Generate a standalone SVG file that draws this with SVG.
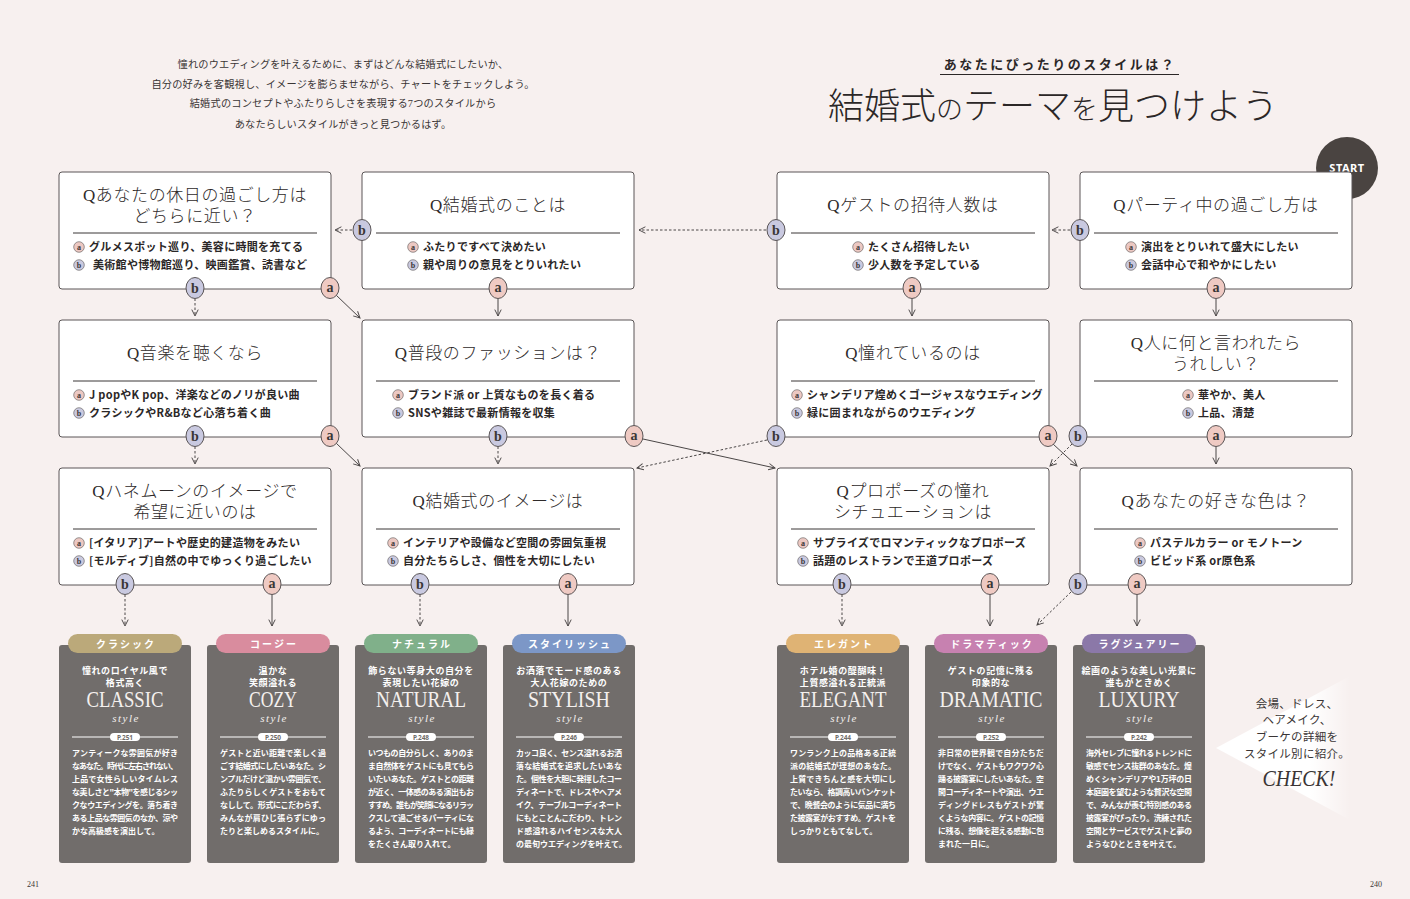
<svg xmlns="http://www.w3.org/2000/svg" width="1410" height="899" viewBox="0 0 1410 899">
<style>
.qb{fill:#fff;stroke:#5a5556;stroke-width:1}
.qt{font-family:"Liberation Serif","Noto Sans CJK JP",serif;font-size:17px;fill:#2e2a2a;text-anchor:middle;letter-spacing:.6px;font-weight:300}
.dv{stroke:#3a3636;stroke-width:1}
.op{font-family:"Noto Sans CJK JP",sans-serif;font-size:11px;font-weight:700;fill:#2b2727;letter-spacing:.3px}
.mka{fill:#ecc8c2;stroke:#5a5556;stroke-width:.6}
.mkb{fill:#c9c9df;stroke:#5a5556;stroke-width:.6}
.mt{font-family:"Liberation Serif",serif;font-size:8px;font-weight:700;fill:#3a3636;text-anchor:middle}
.bda{fill:#efcac3;stroke:#5a5556;stroke-width:1}
.bdb{fill:#c9c9e0;stroke:#5a5556;stroke-width:1}
.bt{font-family:"Liberation Serif",serif;font-weight:700;font-size:14px;fill:#3a3636;text-anchor:middle}
.cs{fill:none;stroke:#4a4646;stroke-width:1;marker-end:url(#ah)}
.cd{fill:none;stroke:#4a4646;stroke-width:1;stroke-dasharray:2.5 2;marker-end:url(#ah)}
.card{fill:#716d6b}
.pl{font-family:"Noto Sans CJK JP",sans-serif;font-size:10px;font-weight:700;fill:#fff;text-anchor:middle;letter-spacing:2px}
.tg{font-family:"Noto Sans CJK JP",sans-serif;font-size:9px;font-weight:700;fill:#fff;text-anchor:middle;letter-spacing:.6px}
.st{font-family:"Liberation Serif",serif;font-size:23px;fill:#f4f0ee;text-anchor:middle}
.sy{font-family:"Liberation Serif",serif;font-size:11px;font-style:italic;fill:#f4f0ee;text-anchor:middle;letter-spacing:1.5px}
.cl{stroke:#fff;stroke-width:1.2}
.pp{fill:#fff}
.pt{font-family:"Noto Sans",sans-serif;font-size:6.5px;font-weight:700;fill:#716d6b;text-anchor:middle}
.bx{font-family:"Noto Sans CJK JP",sans-serif;font-size:8px;font-weight:700;fill:#fff}
.it{font-family:"Liberation Serif","Noto Sans CJK JP",serif;font-size:10.2px;fill:#3a3535;text-anchor:middle;letter-spacing:.2px}
.ck{font-family:"Liberation Serif","Noto Sans CJK JP",serif;font-size:11.5px;fill:#3a3535;text-anchor:middle;letter-spacing:.3px}
</style>
<defs>
<marker id="ah" viewBox="0 0 10 10" refX="9" refY="5" markerWidth="8" markerHeight="8" markerUnits="userSpaceOnUse" orient="auto">
<path d="M1,1 L9,5 L1,9" fill="none" stroke="#4a4646" stroke-width="1.2"/>
</marker>
<linearGradient id="fade" x1="1216" y1="0" x2="1350" y2="0" gradientUnits="userSpaceOnUse">
<stop offset="0" stop-color="#fff" stop-opacity="1"/>
<stop offset="0.7" stop-color="#fff" stop-opacity="1"/>
<stop offset="1" stop-color="#fff" stop-opacity="0"/>
</linearGradient>
</defs>
<rect width="1410" height="899" fill="#f7f0ef"/>

<g id="intro">
<text class="it" x="343" y="68">憧れのウエディングを叶えるために、まずはどんな結婚式にしたいか、</text>
<text class="it" x="343" y="88">自分の好みを客観視し、イメージを膨らませながら、チャートをチェックしよう。</text>
<text class="it" x="343" y="107">結婚式のコンセプトやふたりらしさを表現する7つのスタイルから</text>
<text class="it" x="343" y="128">あなたらしいスタイルがきっと見つかるはず。</text>
</g>

<g id="title">
<text x="1060" y="69" font-family="Noto Sans CJK JP, sans-serif" font-size="13" font-weight="700" fill="#2b2727" text-anchor="middle" letter-spacing="2.5">あなたにぴったりのスタイルは？</text>
<line x1="940" y1="74.5" x2="1179" y2="74.5" stroke="#2b2727" stroke-width="1"/>
<text x="828" y="119" font-family="Liberation Serif, Noto Sans CJK JP, serif" font-weight="300" fill="#2b2727" font-size="36"><tspan>結婚式</tspan><tspan font-size="27">の</tspan><tspan>テーマ</tspan><tspan font-size="27">を</tspan><tspan>見つけよう</tspan></text>
</g>

<g id="start">
<circle cx="1347" cy="168" r="31" fill="#4a4441"/>
<text x="1347" y="172" font-family="Noto Sans, sans-serif" font-size="11" font-weight="700" fill="#fff" text-anchor="middle" letter-spacing=".5">START</text>
</g>

<g id="connectors">
<path class="cd" d="M352,230 H335"/>
<path class="cd" d="M195,298.5 V316"/>
<path class="cs" d="M336,295 L360,318"/>
<path class="cs" d="M498,298.5 V316"/>
<path class="cd" d="M766,230 H639"/>
<path class="cs" d="M912,298.5 V316"/>
<path class="cd" d="M1070,230 H1052"/>
<path class="cs" d="M1216,298.5 V316"/>

<path class="cd" d="M195,446.5 V464"/>
<path class="cs" d="M336,443 L360,466"/>
<path class="cd" d="M498,446.5 V464"/>
<path class="cs" d="M643,439 L775,468"/>
<path class="cd" d="M767,440 L637,468"/>
<path class="cs" d="M1053,444 L1077,466"/>
<path class="cd" d="M1072,444 L1050,466"/>
<path class="cs" d="M1216,446.5 V464"/>

<path class="cd" d="M125,594.5 V626"/>
<path class="cs" d="M272,594.5 V626"/>
<path class="cd" d="M420,594.5 V626"/>
<path class="cs" d="M568,594.5 V626"/>
<path class="cd" d="M842,594.5 V626"/>
<path class="cs" d="M990,594.5 V626"/>
<path class="cd" d="M1071,592 L1037,625"/>
<path class="cs" d="M1137,594.5 V626"/>
</g>

<!-- Row 1 -->
<g id="q-holiday">
<rect class="qb" x="59" y="172" width="272" height="117" rx="3"/>
<text class="qt" x="195" y="201">Qあなたの休日の過ごし方は</text>
<text class="qt" x="195" y="222">どちらに近い？</text>
<line class="dv" x1="73" y1="233" x2="317" y2="233"/>
<circle class="mka" cx="79" cy="247" r="5.3"/><text class="mt" x="79" y="249.5">a</text>
<text class="op" x="89" y="251">グルメスポット巡り、美容に時間を充てる</text>
<circle class="mkb" cx="79" cy="265" r="5.3"/><text class="mt" x="79" y="267.5">b</text>
<text class="op" x="93" y="269">美術館や博物館巡り、映画鑑賞、読書など</text>
<ellipse class="bdb" cx="195" cy="288" rx="9" ry="10.5"/><text class="bt" x="195" y="293">b</text>
<ellipse class="bda" cx="330" cy="288" rx="9" ry="10.5"/><text class="bt" x="330" y="292">a</text>
</g>

<g id="q-wedding">
<rect class="qb" x="362" y="172" width="272" height="117" rx="3"/>
<text class="qt" x="498" y="211">Q結婚式のことは</text>
<line class="dv" x1="376" y1="233" x2="620" y2="233"/>
<circle class="mka" cx="413" cy="247" r="5.3"/><text class="mt" x="413" y="249.5">a</text>
<text class="op" x="423" y="251">ふたりですべて決めたい</text>
<circle class="mkb" cx="413" cy="265" r="5.3"/><text class="mt" x="413" y="267.5">b</text>
<text class="op" x="423" y="269">親や周りの意見をとりいれたい</text>
<ellipse class="bdb" cx="362" cy="230" rx="9" ry="10.5"/><text class="bt" x="362" y="235">b</text>
<ellipse class="bda" cx="498" cy="288" rx="9" ry="10.5"/><text class="bt" x="498" y="292">a</text>
</g>

<g id="q-guests">
<rect class="qb" x="777" y="172" width="272" height="117" rx="3"/>
<text class="qt" x="913" y="211">Qゲストの招待人数は</text>
<line class="dv" x1="791" y1="233" x2="1035" y2="233"/>
<circle class="mka" cx="858" cy="247" r="5.3"/><text class="mt" x="858" y="249.5">a</text>
<text class="op" x="868" y="251">たくさん招待したい</text>
<circle class="mkb" cx="858" cy="265" r="5.3"/><text class="mt" x="858" y="267.5">b</text>
<text class="op" x="868" y="269">少人数を予定している</text>
<ellipse class="bdb" cx="776" cy="230" rx="9" ry="10.5"/><text class="bt" x="776" y="235">b</text>
<ellipse class="bda" cx="912" cy="288" rx="9" ry="10.5"/><text class="bt" x="912" y="292">a</text>
</g>

<g id="q-party">
<rect class="qb" x="1080" y="172" width="272" height="117" rx="3"/>
<text class="qt" x="1216" y="211">Qパーティ中の過ごし方は</text>
<line class="dv" x1="1094" y1="233" x2="1338" y2="233"/>
<circle class="mka" cx="1131" cy="247" r="5.3"/><text class="mt" x="1131" y="249.5">a</text>
<text class="op" x="1141" y="251">演出をとりいれて盛大にしたい</text>
<circle class="mkb" cx="1131" cy="265" r="5.3"/><text class="mt" x="1131" y="267.5">b</text>
<text class="op" x="1141" y="269">会話中心で和やかにしたい</text>
<ellipse class="bdb" cx="1080" cy="230" rx="9" ry="10.5"/><text class="bt" x="1080" y="235">b</text>
<ellipse class="bda" cx="1216" cy="288" rx="9" ry="10.5"/><text class="bt" x="1216" y="292">a</text>
</g>

<!-- Row 2 -->
<g id="q-music">
<rect class="qb" x="59" y="320" width="272" height="117" rx="3"/>
<text class="qt" x="195" y="359">Q音楽を聴くなら</text>
<line class="dv" x1="73" y1="381" x2="317" y2="381"/>
<circle class="mka" cx="79" cy="395" r="5.3"/><text class="mt" x="79" y="397.5">a</text>
<text class="op" x="89" y="399">J popやK pop、洋楽などのノリが良い曲</text>
<circle class="mkb" cx="79" cy="413" r="5.3"/><text class="mt" x="79" y="415.5">b</text>
<text class="op" x="89" y="417">クラシックやR&amp;Bなど心落ち着く曲</text>
<ellipse class="bdb" cx="195" cy="436" rx="9" ry="10.5"/><text class="bt" x="195" y="441">b</text>
<ellipse class="bda" cx="330" cy="436" rx="9" ry="10.5"/><text class="bt" x="330" y="440">a</text>
</g>

<g id="q-fashion">
<rect class="qb" x="362" y="320" width="272" height="117" rx="3"/>
<text class="qt" x="498" y="359">Q普段のファッションは？</text>
<line class="dv" x1="376" y1="381" x2="620" y2="381"/>
<circle class="mka" cx="398" cy="395" r="5.3"/><text class="mt" x="398" y="397.5">a</text>
<text class="op" x="408" y="399">ブランド派 or 上質なものを長く着る</text>
<circle class="mkb" cx="398" cy="413" r="5.3"/><text class="mt" x="398" y="415.5">b</text>
<text class="op" x="408" y="417">SNSや雑誌で最新情報を収集</text>
<ellipse class="bdb" cx="498" cy="436" rx="9" ry="10.5"/><text class="bt" x="498" y="441">b</text>
<ellipse class="bda" cx="634" cy="436" rx="9" ry="10.5"/><text class="bt" x="634" y="440">a</text>
</g>

<g id="q-longing">
<rect class="qb" x="777" y="320" width="272" height="117" rx="3"/>
<text class="qt" x="913" y="359">Q憧れているのは</text>
<line class="dv" x1="791" y1="381" x2="1035" y2="381"/>
<circle class="mka" cx="797" cy="395" r="5.3"/><text class="mt" x="797" y="397.5">a</text>
<text class="op" x="807" y="399">シャンデリア煌めくゴージャスなウエディング</text>
<circle class="mkb" cx="797" cy="413" r="5.3"/><text class="mt" x="797" y="415.5">b</text>
<text class="op" x="807" y="417">緑に囲まれながらのウエディング</text>
<ellipse class="bdb" cx="776" cy="436" rx="9" ry="10.5"/><text class="bt" x="776" y="441">b</text>
<ellipse class="bda" cx="1048" cy="436" rx="9" ry="10.5"/><text class="bt" x="1048" y="440">a</text>
</g>

<g id="q-compliment">
<rect class="qb" x="1080" y="320" width="272" height="117" rx="3"/>
<text class="qt" x="1216" y="349">Q人に何と言われたら</text>
<text class="qt" x="1216" y="370">うれしい？</text>
<line class="dv" x1="1094" y1="381" x2="1338" y2="381"/>
<circle class="mka" cx="1188" cy="395" r="5.3"/><text class="mt" x="1188" y="397.5">a</text>
<text class="op" x="1198" y="399">華やか、美人</text>
<circle class="mkb" cx="1188" cy="413" r="5.3"/><text class="mt" x="1188" y="415.5">b</text>
<text class="op" x="1198" y="417">上品、清楚</text>
<ellipse class="bdb" cx="1078" cy="436" rx="9" ry="10.5"/><text class="bt" x="1078" y="441">b</text>
<ellipse class="bda" cx="1216" cy="436" rx="9" ry="10.5"/><text class="bt" x="1216" y="440">a</text>
</g>

<!-- Row 3 -->
<g id="q-honeymoon">
<rect class="qb" x="59" y="468" width="272" height="117" rx="3"/>
<text class="qt" x="195" y="497">Qハネムーンのイメージで</text>
<text class="qt" x="195" y="518">希望に近いのは</text>
<line class="dv" x1="73" y1="529" x2="317" y2="529"/>
<circle class="mka" cx="79" cy="543" r="5.3"/><text class="mt" x="79" y="545.5">a</text>
<text class="op" x="89" y="547">[イタリア]アートや歴史的建造物をみたい</text>
<circle class="mkb" cx="79" cy="561" r="5.3"/><text class="mt" x="79" y="563.5">b</text>
<text class="op" x="89" y="565">[モルディブ]自然の中でゆっくり過ごしたい</text>
<ellipse class="bdb" cx="125" cy="584" rx="9" ry="10.5"/><text class="bt" x="125" y="589">b</text>
<ellipse class="bda" cx="272" cy="584" rx="9" ry="10.5"/><text class="bt" x="272" y="588">a</text>
</g>

<g id="q-image">
<rect class="qb" x="362" y="468" width="272" height="117" rx="3"/>
<text class="qt" x="498" y="507">Q結婚式のイメージは</text>
<line class="dv" x1="376" y1="529" x2="620" y2="529"/>
<circle class="mka" cx="393" cy="543" r="5.3"/><text class="mt" x="393" y="545.5">a</text>
<text class="op" x="403" y="547">インテリアや設備など空間の雰囲気重視</text>
<circle class="mkb" cx="393" cy="561" r="5.3"/><text class="mt" x="393" y="563.5">b</text>
<text class="op" x="403" y="565">自分たちらしさ、個性を大切にしたい</text>
<ellipse class="bdb" cx="420" cy="584" rx="9" ry="10.5"/><text class="bt" x="420" y="589">b</text>
<ellipse class="bda" cx="568" cy="584" rx="9" ry="10.5"/><text class="bt" x="568" y="588">a</text>
</g>

<g id="q-proposal">
<rect class="qb" x="777" y="468" width="272" height="117" rx="3"/>
<text class="qt" x="913" y="497">Qプロポーズの憧れ</text>
<text class="qt" x="913" y="518">シチュエーションは</text>
<line class="dv" x1="791" y1="529" x2="1035" y2="529"/>
<circle class="mka" cx="803" cy="543" r="5.3"/><text class="mt" x="803" y="545.5">a</text>
<text class="op" x="813" y="547">サプライズでロマンティックなプロポーズ</text>
<circle class="mkb" cx="803" cy="561" r="5.3"/><text class="mt" x="803" y="563.5">b</text>
<text class="op" x="813" y="565">話題のレストランで王道プロポーズ</text>
<ellipse class="bdb" cx="842" cy="584" rx="9" ry="10.5"/><text class="bt" x="842" y="589">b</text>
<ellipse class="bda" cx="990" cy="584" rx="9" ry="10.5"/><text class="bt" x="990" y="588">a</text>
</g>

<g id="q-color">
<rect class="qb" x="1080" y="468" width="272" height="117" rx="3"/>
<text class="qt" x="1216" y="507">Qあなたの好きな色は？</text>
<line class="dv" x1="1094" y1="529" x2="1338" y2="529"/>
<circle class="mka" cx="1140" cy="543" r="5.3"/><text class="mt" x="1140" y="545.5">a</text>
<text class="op" x="1150" y="547">パステルカラー or モノトーン</text>
<circle class="mkb" cx="1140" cy="561" r="5.3"/><text class="mt" x="1140" y="563.5">b</text>
<text class="op" x="1150" y="565">ビビッド系 or原色系</text>
<ellipse class="bdb" cx="1078" cy="584" rx="9" ry="10.5"/><text class="bt" x="1078" y="589">b</text>
<ellipse class="bda" cx="1137" cy="584" rx="9" ry="10.5"/><text class="bt" x="1137" y="588">a</text>
</g>

<!-- Style cards -->
<g id="card-classic">
<rect class="card" x="59" y="645" width="132" height="218" rx="3"/>
<rect x="68" y="634" width="114" height="19" rx="9.5" fill="#bba97a"/>
<text class="pl" x="126" y="647.5">クラシック</text>
<text class="tg" x="125" y="673.5">憧れのロイヤル風で</text>
<text class="tg" x="125" y="685.5">格式高く</text>
<text class="st" x="125" y="707" textLength="77" lengthAdjust="spacingAndGlyphs">CLASSIC</text>
<text class="sy" x="126" y="722">style</text>
<line class="cl" x1="72" y1="737" x2="178" y2="737"/>
<rect class="pp" x="110" y="733" width="30" height="8" rx="4"/>
<text class="pt" x="125" y="739.5">P.251</text>
<text class="bx" x="72" y="756" textLength="106" lengthAdjust="spacing">アンティークな雰囲気が好き</text>
<text class="bx" x="72" y="769" textLength="106" lengthAdjust="spacing">なあなた。時代に左右されない、</text>
<text class="bx" x="72" y="782" textLength="106" lengthAdjust="spacing">上品で女性らしいタイムレス</text>
<text class="bx" x="72" y="795" textLength="106" lengthAdjust="spacing">な美しさと"本物"を感じるシッ</text>
<text class="bx" x="72" y="808" textLength="106" lengthAdjust="spacing">クなウエディングを。落ち着き</text>
<text class="bx" x="72" y="821" textLength="106" lengthAdjust="spacing">ある上品な雰囲気のなか、涼や</text>
<text class="bx" x="72" y="834">かな高級感を演出して。</text>
</g>

<g id="card-cozy">
<rect class="card" x="207" y="645" width="132" height="218" rx="3"/>
<rect x="216" y="634" width="114" height="19" rx="9.5" fill="#d98c9e"/>
<text class="pl" x="274" y="647.5">コージー</text>
<text class="tg" x="273" y="673.5">温かな</text>
<text class="tg" x="273" y="685.5">笑顔溢れる</text>
<text class="st" x="273" y="707" textLength="48" lengthAdjust="spacingAndGlyphs">COZY</text>
<text class="sy" x="274" y="722">style</text>
<line class="cl" x1="220" y1="737" x2="326" y2="737"/>
<rect class="pp" x="258" y="733" width="30" height="8" rx="4"/>
<text class="pt" x="273" y="739.5">P.250</text>
<text class="bx" x="220" y="756" textLength="106" lengthAdjust="spacing">ゲストと近い距離で楽しく過</text>
<text class="bx" x="220" y="769" textLength="106" lengthAdjust="spacing">ごす結婚式にしたいあなた。シ</text>
<text class="bx" x="220" y="782" textLength="106" lengthAdjust="spacing">ンプルだけど温かい雰囲気で、</text>
<text class="bx" x="220" y="795" textLength="106" lengthAdjust="spacing">ふたりらしくゲストをおもて</text>
<text class="bx" x="220" y="808" textLength="106" lengthAdjust="spacing">なしして。形式にこだわらず、</text>
<text class="bx" x="220" y="821" textLength="106" lengthAdjust="spacing">みんなが肩ひじ張らずにゆっ</text>
<text class="bx" x="220" y="834">たりと楽しめるスタイルに。</text>
</g>

<g id="card-natural">
<rect class="card" x="355" y="645" width="132" height="218" rx="3"/>
<rect x="364" y="634" width="114" height="19" rx="9.5" fill="#80b08a"/>
<text class="pl" x="422" y="647.5">ナチュラル</text>
<text class="tg" x="421" y="673.5">飾らない等身大の自分を</text>
<text class="tg" x="421" y="685.5">表現したい花嫁の</text>
<text class="st" x="421" y="707" textLength="90" lengthAdjust="spacingAndGlyphs">NATURAL</text>
<text class="sy" x="422" y="722">style</text>
<line class="cl" x1="368" y1="737" x2="474" y2="737"/>
<rect class="pp" x="406" y="733" width="30" height="8" rx="4"/>
<text class="pt" x="421" y="739.5">P.248</text>
<text class="bx" x="368" y="756" textLength="106" lengthAdjust="spacing">いつもの自分らしく、ありのま</text>
<text class="bx" x="368" y="769" textLength="106" lengthAdjust="spacing">ま自然体をゲストにも見てもら</text>
<text class="bx" x="368" y="782" textLength="106" lengthAdjust="spacing">いたいあなた。ゲストとの距離</text>
<text class="bx" x="368" y="795" textLength="106" lengthAdjust="spacing">が近く、一体感のある演出もお</text>
<text class="bx" x="368" y="808" textLength="106" lengthAdjust="spacing">すすめ。誰もが笑顔になるリラッ</text>
<text class="bx" x="368" y="821" textLength="106" lengthAdjust="spacing">クスして過ごせるパーティにな</text>
<text class="bx" x="368" y="834" textLength="106" lengthAdjust="spacing">るよう、コーディネートにも緑</text>
<text class="bx" x="368" y="847">をたくさん取り入れて。</text>
</g>

<g id="card-stylish">
<rect class="card" x="503" y="645" width="132" height="218" rx="3"/>
<rect x="512" y="634" width="114" height="19" rx="9.5" fill="#7c97c7"/>
<text class="pl" x="570" y="647.5">スタイリッシュ</text>
<text class="tg" x="569" y="673.5">お洒落でモード感のある</text>
<text class="tg" x="569" y="685.5">大人花嫁のための</text>
<text class="st" x="569" y="707" textLength="82" lengthAdjust="spacingAndGlyphs">STYLISH</text>
<text class="sy" x="570" y="722">style</text>
<line class="cl" x1="516" y1="737" x2="622" y2="737"/>
<rect class="pp" x="554" y="733" width="30" height="8" rx="4"/>
<text class="pt" x="569" y="739.5">P.246</text>
<text class="bx" x="516" y="756" textLength="106" lengthAdjust="spacing">カッコ良く、センス溢れるお洒</text>
<text class="bx" x="516" y="769" textLength="106" lengthAdjust="spacing">落な結婚式を追求したいあな</text>
<text class="bx" x="516" y="782" textLength="106" lengthAdjust="spacing">た。個性を大胆に発揮したコー</text>
<text class="bx" x="516" y="795" textLength="106" lengthAdjust="spacing">ディネートで、ドレスやヘアメ</text>
<text class="bx" x="516" y="808" textLength="106" lengthAdjust="spacing">イク、テーブルコーディネート</text>
<text class="bx" x="516" y="821" textLength="106" lengthAdjust="spacing">にもとことんこだわり、トレン</text>
<text class="bx" x="516" y="834" textLength="106" lengthAdjust="spacing">ド感溢れるハイセンスな大人</text>
<text class="bx" x="516" y="847">の最旬ウエディングを叶えて。</text>
</g>

<g id="card-elegant">
<rect class="card" x="777" y="645" width="132" height="218" rx="3"/>
<rect x="786" y="634" width="114" height="19" rx="9.5" fill="#dfb374"/>
<text class="pl" x="844" y="647.5">エレガント</text>
<text class="tg" x="843" y="673.5">ホテル婚の醍醐味！</text>
<text class="tg" x="843" y="685.5">上質感溢れる正統派</text>
<text class="st" x="843" y="707" textLength="87" lengthAdjust="spacingAndGlyphs">ELEGANT</text>
<text class="sy" x="844" y="722">style</text>
<line class="cl" x1="790" y1="737" x2="896" y2="737"/>
<rect class="pp" x="828" y="733" width="30" height="8" rx="4"/>
<text class="pt" x="843" y="739.5">P.244</text>
<text class="bx" x="790" y="756" textLength="106" lengthAdjust="spacing">ワンランク上の品格ある正統</text>
<text class="bx" x="790" y="769" textLength="106" lengthAdjust="spacing">派の結婚式が理想のあなた。</text>
<text class="bx" x="790" y="782" textLength="106" lengthAdjust="spacing">上質できちんと感を大切にし</text>
<text class="bx" x="790" y="795" textLength="106" lengthAdjust="spacing">たいなら、格調高いバンケット</text>
<text class="bx" x="790" y="808" textLength="106" lengthAdjust="spacing">で、晩餐会のように気品に満ち</text>
<text class="bx" x="790" y="821" textLength="106" lengthAdjust="spacing">た披露宴がおすすめ。ゲストを</text>
<text class="bx" x="790" y="834">しっかりともてなして。</text>
</g>

<g id="card-dramatic">
<rect class="card" x="925" y="645" width="132" height="218" rx="3"/>
<rect x="934" y="634" width="114" height="19" rx="9.5" fill="#c781b0"/>
<text class="pl" x="992" y="647.5">ドラマティック</text>
<text class="tg" x="991" y="673.5">ゲストの記憶に残る</text>
<text class="tg" x="991" y="685.5">印象的な</text>
<text class="st" x="991" y="707" textLength="103" lengthAdjust="spacingAndGlyphs">DRAMATIC</text>
<text class="sy" x="992" y="722">style</text>
<line class="cl" x1="938" y1="737" x2="1044" y2="737"/>
<rect class="pp" x="976" y="733" width="30" height="8" rx="4"/>
<text class="pt" x="991" y="739.5">P.252</text>
<text class="bx" x="938" y="756" textLength="106" lengthAdjust="spacing">非日常の世界観で自分たちだ</text>
<text class="bx" x="938" y="769" textLength="106" lengthAdjust="spacing">けでなく、ゲストもワクワク心</text>
<text class="bx" x="938" y="782" textLength="106" lengthAdjust="spacing">踊る披露宴にしたいあなた。空</text>
<text class="bx" x="938" y="795" textLength="106" lengthAdjust="spacing">間コーディネートや演出、ウエ</text>
<text class="bx" x="938" y="808" textLength="106" lengthAdjust="spacing">ディングドレスもゲストが驚</text>
<text class="bx" x="938" y="821" textLength="106" lengthAdjust="spacing">くような内容に。ゲストの記憶</text>
<text class="bx" x="938" y="834" textLength="106" lengthAdjust="spacing">に残る、想像を超える感動に包</text>
<text class="bx" x="938" y="847">まれた一日に。</text>
</g>

<g id="card-luxury">
<rect class="card" x="1073" y="645" width="132" height="218" rx="3"/>
<rect x="1082" y="634" width="114" height="19" rx="9.5" fill="#8b78a8"/>
<text class="pl" x="1140" y="647.5">ラグジュアリー</text>
<text class="tg" x="1139" y="673.5">絵画のような美しい光景に</text>
<text class="tg" x="1139" y="685.5">誰もがときめく</text>
<text class="st" x="1139" y="707" textLength="81" lengthAdjust="spacingAndGlyphs">LUXURY</text>
<text class="sy" x="1140" y="722">style</text>
<line class="cl" x1="1086" y1="737" x2="1192" y2="737"/>
<rect class="pp" x="1124" y="733" width="30" height="8" rx="4"/>
<text class="pt" x="1139" y="739.5">P.242</text>
<text class="bx" x="1086" y="756" textLength="106" lengthAdjust="spacing">海外セレブに憧れるトレンドに</text>
<text class="bx" x="1086" y="769" textLength="106" lengthAdjust="spacing">敏感でセンス抜群のあなた。煌</text>
<text class="bx" x="1086" y="782" textLength="106" lengthAdjust="spacing">めくシャンデリアや1万坪の日</text>
<text class="bx" x="1086" y="795" textLength="106" lengthAdjust="spacing">本庭園を望むような贅沢な空間</text>
<text class="bx" x="1086" y="808" textLength="106" lengthAdjust="spacing">で、みんなが羨む特別感のある</text>
<text class="bx" x="1086" y="821" textLength="106" lengthAdjust="spacing">披露宴がぴったり。洗練された</text>
<text class="bx" x="1086" y="834" textLength="106" lengthAdjust="spacing">空間とサービスでゲストと夢の</text>
<text class="bx" x="1086" y="847">ようなひとときを叶えて。</text>
</g>

<g id="check">
<polygon points="1216,748 1350,676 1350,820" fill="url(#fade)"/>
<text class="ck" x="1297" y="707.5">会場、ドレス、</text>
<text class="ck" x="1297" y="724">ヘアメイク、</text>
<text class="ck" x="1297" y="741">ブーケの詳細を</text>
<text class="ck" x="1297" y="758">スタイル別に紹介。</text>
<text x="1299" y="786" font-family="Liberation Serif, serif" font-style="italic" font-size="24" fill="#3a3535" text-anchor="middle" textLength="73" lengthAdjust="spacingAndGlyphs">CHECK!</text>
</g>

<g id="pages">
<text x="27" y="887" font-family="Liberation Serif, serif" font-size="8" fill="#3a3535">241</text>
<text x="1370" y="887" font-family="Liberation Serif, serif" font-size="8" fill="#3a3535">240</text>
</g>
</svg>
